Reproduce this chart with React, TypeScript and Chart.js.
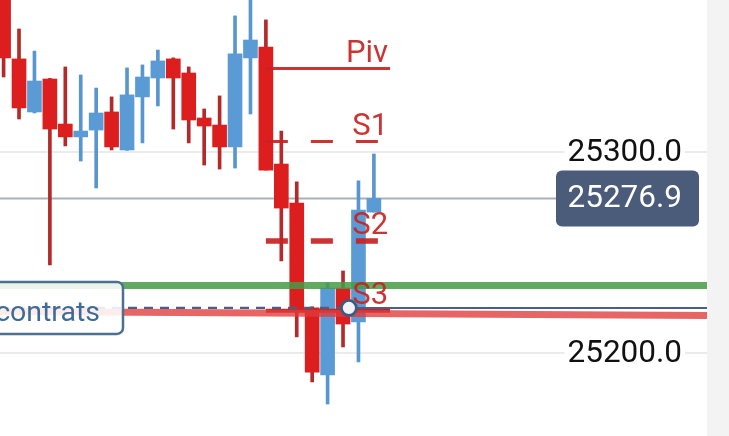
import React, { useEffect, useRef } from "react";
import { Chart, registerables } from "chart.js";

Chart.register(...registerables);

// ---- data ----
const opens = [25385.0, 25346.3, 25319.9, 25336.3, 25313.9, 25307.5, 25310.9, 25319.9, 25301.0, 25327.4, 25336.8, 25346.3, 25339.3, 25316.9, 25313.4, 25302.5, 25346.8, 25352.2, 25294.0, 25274.6, 25222.4, 25189.1, 25232.3, 25215.4, 25270.1];
const highs = [25392.0, 25361.2, 25350.2, 25336.6, 25342.3, 25338.3, 25331.8, 25327.4, 25341.8, 25343.3, 25350.7, 25346.8, 25342.3, 25321.4, 25327.9, 25367.7, 25380.0, 25365.7, 25310.4, 25285.1, 25223.0, 25234.8, 25240.8, 25285.6, 25299.0];
const lows = [25337.3, 25316.4, 25319.4, 25243.8, 25303.0, 25295.5, 25282.1, 25301.0, 25300.8, 25304.5, 25322.9, 25311.4, 25304.5, 25293.5, 25291.5, 25292.0, 25318.9, 25291.0, 25245.8, 25208.0, 25185.6, 25174.6, 25203.0, 25195.5, 25270.1];
const closes = [25346.8, 25321.9, 25335.3, 25311.4, 25307.5, 25310.4, 25319.4, 25302.5, 25328.4, 25337.3, 25345.3, 25336.8, 25315.9, 25312.9, 25302.5, 25348.8, 25355.7, 25291.0, 25272.1, 25221.4, 25190.5, 25232.3, 25214.4, 25271.1, 25276.9];

const pivotNames = ["Piv", "S1", "S2", "S3"];
const pivotValues = [25341.5, 25305.2, 25255.7, 25221.0];
const pivotStart = 17;
const pivotEnd = 25.05;

const yTicks = [25200, 25300];
const yMin = 25158.7;
const yMax = 25375.6;
const xMin = -0.233;
const xMax = 45.59;

const lastPrice = 25276.9;
const greenLevel = 25233.6;
const redLineStart = 25220.6;
const redLineEnd = 25218.7;
const positionLevel = 25222.4;
const positionPointX = 22.38;
const positionLabel = "contrats";

// ---- styles ----
const RED = "#dc1e1e";
const RED_WICK = "#b42a2a";
const BLUE = "#5b9bd5";
const BLUE_WICK = "#5896cf";
const PIV_RED = "rgba(200,34,34,0.92)";
const NAVY = "#4a5c7a";

function roundRect(ctx: CanvasRenderingContext2D, x: number, y: number, w: number, h: number, r: number) {
  ctx.beginPath();
  ctx.moveTo(x + r, y);
  ctx.lineTo(x + w - r, y);
  ctx.arcTo(x + w, y, x + w, y + r, r);
  ctx.lineTo(x + w, y + h - r);
  ctx.arcTo(x + w, y + h, x + w - r, y + h, r);
  ctx.lineTo(x + r, y + h);
  ctx.arcTo(x, y + h, x, y + h - r, r);
  ctx.lineTo(x, y + r);
  ctx.arcTo(x, y, x + r, y, r);
  ctx.closePath();
}

const overlayPlugin = {
  id: "overlay",
  beforeDatasetsDraw(chart: any) {
    const { ctx, chartArea, scales } = chart;
    const y = scales.y.getPixelForValue(lastPrice);
    ctx.save();
    ctx.strokeStyle = "#a9b0ba";
    ctx.lineWidth = 2;
    ctx.beginPath();
    ctx.moveTo(chartArea.left, y);
    ctx.lineTo(chartArea.right - 151, y);
    ctx.stroke();
    ctx.restore();
  },
  afterDatasetsDraw(chart: any) {
    const { ctx, chartArea, scales } = chart;
    const xs = scales.x;
    const ys = scales.y;
    ctx.save();
    // pivot labels
    ctx.font = "31px Roboto";
    ctx.fillStyle = PIV_RED;
    ctx.textAlign = "right";
    ctx.textBaseline = "alphabetic";
    pivotNames.forEach((name, i) => {
      const py = ys.getPixelForValue(pivotValues[i]);
      ctx.fillText(name, xs.getPixelForValue(pivotEnd) - 2, py - 7);
    });

    // y tick labels with backdrop
    ctx.font = "31.5px Roboto";
    ctx.textBaseline = "middle";
    const labelRight = chartArea.right - 25;
    yTicks.forEach((v) => {
      const ty = ys.getPixelForValue(v);
      const txt = v.toFixed(1);
      const w = ctx.measureText(txt).width;
      ctx.fillStyle = "#ffffff";
      ctx.fillRect(labelRight - w - 3, ty - 4, w + 6, 8);
      ctx.fillStyle = "#111111";
      ctx.fillText(txt, labelRight, ty + 1);
    });

    // last price label
    const py = ys.getPixelForValue(lastPrice);
    ctx.fillStyle = NAVY;
    roundRect(ctx, chartArea.right - 151, py - 28, 143, 56, 6);
    ctx.fill();
    ctx.fillStyle = "#ffffff";
    ctx.fillText(lastPrice.toFixed(1), labelRight, py + 1);

    // position label box
    const qy = ys.getPixelForValue(positionLevel);
    ctx.fillStyle = "rgba(255,255,255,0.88)";
    roundRect(ctx, chartArea.left - 30, qy - 26, 153, 52, 6);
    ctx.fill();
    ctx.strokeStyle = "#4d7090";
    ctx.lineWidth = 2.5;
    ctx.stroke();
    ctx.font = "28.5px Roboto";
    ctx.fillStyle = "#3e6c94";
    ctx.textAlign = "right";
    ctx.textBaseline = "alphabetic";
    ctx.fillText(positionLabel, chartArea.left + 100, qy + 13);
    ctx.restore();
  },
};

function seg(x0: number, x1: number, y0: number, y1: number) {
  return [
    { x: x0, y: y0 },
    { x: x1, y: y1 },
  ];
}

export default function App() {
  const ref = useRef<HTMLCanvasElement | null>(null);

  useEffect(() => {
    if (!ref.current) return;
    const idx = opens.map((_, i) => i);
    const up = idx.map((i) => closes[i] >= opens[i]);

    const lineBase = { type: "line" as const, pointRadius: 0, fill: false, tension: 0 };

    const chart = new Chart(ref.current, {
      type: "bar",
      data: {
        datasets: [
          {
            type: "bar",
            label: "wicks",
            data: idx.map((i) => ({ x: i, y: [lows[i], highs[i]] })) as any,
            backgroundColor: idx.map((i) => (up[i] ? BLUE_WICK : RED_WICK)),
            barThickness: 3,
            grouped: false,
            borderWidth: 0,
            order: 10,
          } as any,
          {
            type: "bar",
            label: "bodies",
            data: idx.map((i) => ({ x: i, y: [opens[i], closes[i]] })) as any,
            backgroundColor: idx.map((i) => (up[i] ? BLUE : RED)),
            barThickness: 14,
            grouped: false,
            borderWidth: 0,
            order: 9,
          } as any,
          {
            ...lineBase,
            label: "S3",
            data: seg(pivotStart, pivotEnd, pivotValues[3], pivotValues[3]),
            borderColor: "#c62424",
            borderWidth: 4,
            order: 8,
          } as any,
          {
            ...lineBase,
            label: "green",
            data: seg(xMin, xMax, greenLevel, greenLevel),
            borderColor: "rgba(70,155,70,0.85)",
            borderWidth: 7,
            order: 7,
          } as any,
          {
            ...lineBase,
            label: "redband",
            data: seg(xMin, xMax, redLineStart, redLineEnd),
            borderColor: "rgba(226,58,58,0.78)",
            borderWidth: 7,
            order: 6,
          } as any,
          {
            ...lineBase,
            label: "posDash",
            data: seg(xMin, positionPointX, positionLevel, positionLevel),
            borderColor: "#4a5f85",
            borderWidth: 2.2,
            borderDash: [9, 7],
            order: 5,
          } as any,
          {
            ...lineBase,
            label: "posSolid",
            data: seg(positionPointX, xMax, positionLevel, positionLevel),
            borderColor: "#4a5f85",
            borderWidth: 2,
            order: 5,
          } as any,
          {
            ...lineBase,
            label: "Piv",
            data: seg(pivotStart, pivotEnd, pivotValues[0], pivotValues[0]),
            borderColor: PIV_RED,
            borderWidth: 3,
            order: 4,
          } as any,
          {
            ...lineBase,
            label: "S1",
            data: seg(pivotStart, pivotEnd, pivotValues[1], pivotValues[1]),
            borderColor: PIV_RED,
            borderWidth: 3,
            borderDash: [22, 23],
            order: 4,
          } as any,
          {
            ...lineBase,
            label: "S2",
            data: seg(pivotStart, pivotEnd, pivotValues[2], pivotValues[2]),
            borderColor: PIV_RED,
            borderWidth: 5.5,
            borderDash: [22, 23],
            order: 4,
          } as any,
          {
            type: "line",
            label: "point",
            data: [{ x: positionPointX, y: positionLevel }],
            showLine: false,
            pointRadius: 7.5,
            pointBorderWidth: 2.8,
            pointBackgroundColor: "#f2f3f8",
            pointBorderColor: "#3d5a85",
            order: 1,
          } as any,
        ],
      },
      options: {
        animation: false,
        responsive: true,
        maintainAspectRatio: false,
        layout: { padding: 0, autoPadding: false },
        plugins: { legend: { display: false }, tooltip: { enabled: false } },
        events: [],
        scales: {
          x: {
            type: "linear",
            min: xMin,
            max: xMax,
            offset: false,
            display: false,
          },
          y: {
            type: "linear",
            min: yMin,
            max: yMax,
            beginAtZero: false,
            position: "right",
            afterBuildTicks: (scale: any) => {
              scale.ticks = yTicks.map((v) => ({ value: v }));
            },
            grid: { color: "#ebebeb", lineWidth: 2, drawTicks: false },
            border: { display: false },
            ticks: { display: false },
          },
        },
      } as any,
      plugins: [overlayPlugin],
    });
    return () => chart.destroy();
  }, []);

  return (
    <div style={{ position: "fixed", left: 0, top: 0, width: 729, height: 436, background: "#f3f3f3" }}>
      <div style={{ position: "absolute", left: 0, top: 0, width: 707, height: 436, background: "#ffffff" }}>
        <canvas ref={ref} />
      </div>
    </div>
  );
}
